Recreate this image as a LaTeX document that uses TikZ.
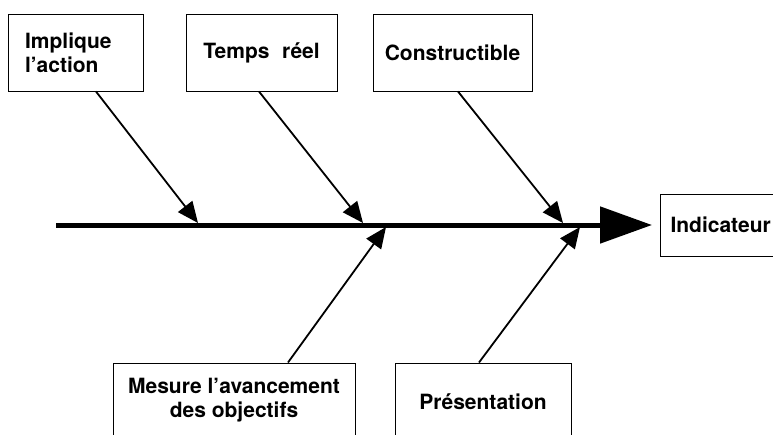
\documentclass[tikz,border=0pt]{standalone}
\usepackage{fontspec}
\setmainfont{TeX Gyre Heros}
\usetikzlibrary{arrows.meta,positioning,calc}

\begin{document}
\begin{tikzpicture}[
  x=1pt,y=-1pt,
  font=\bfseries\fontsize{21}{24}\selectfont,
  box/.style={draw,line width=1pt,inner sep=0pt,align=center},
  bone/.style={-{Triangle[length=21pt,width=18pt]},line width=1.8pt},
  spine/.style={-{Triangle[length=52pt,width=36pt]},line width=5pt}
]
\useasboundingbox (0,0) rectangle (773,434);

% causes above the spine
\node[box,text width=101pt,align=left,inner xsep=17pt,minimum height=77pt] (impl) at (75.5,52.5) {Implique\\l'action};
\node[box,minimum width=151pt,minimum height=77pt] (temps) at (261.5,52.5) {Temps\hspace{0.6em}réel};
\node[box,minimum width=159pt,minimum height=77pt] (constr) at (452.5,52.5) {Constructible};

% causes below the spine
\node[box,minimum width=242pt,minimum height=75pt] (mesure) at (234,400.5) {Mesure l'avancement\\des objectifs};
\node[box,minimum width=176pt,minimum height=78pt] (pres) at (483,402) {Présentation};

% effect
\node[box,anchor=west,inner xsep=10pt,minimum height=62pt] (ind) at (660,225) {\raisebox{-3pt}{Indicateur}};

% spine and junction points
\coordinate (tail) at (56,225);
\coordinate (j1) at (198,223);
\coordinate (j2) at (363,223);
\coordinate (j3) at (563,223);
\coordinate (j4) at (386,227);
\coordinate (j5) at (580,227);
\draw[spine,shorten >=8pt] (tail) -- (ind.west);

\draw[bone] ([xshift=20.5pt]impl.south) -- (j1);
\draw[bone] ([xshift=-2.5pt]temps.south) -- (j2);
\draw[bone] ([xshift=5.5pt]constr.south) -- (j3);
\draw[bone] ([xshift=54pt]mesure.north) -- (j4);
\draw[bone] ([xshift=-4pt]pres.north) -- (j5);
\end{tikzpicture}
\end{document}
